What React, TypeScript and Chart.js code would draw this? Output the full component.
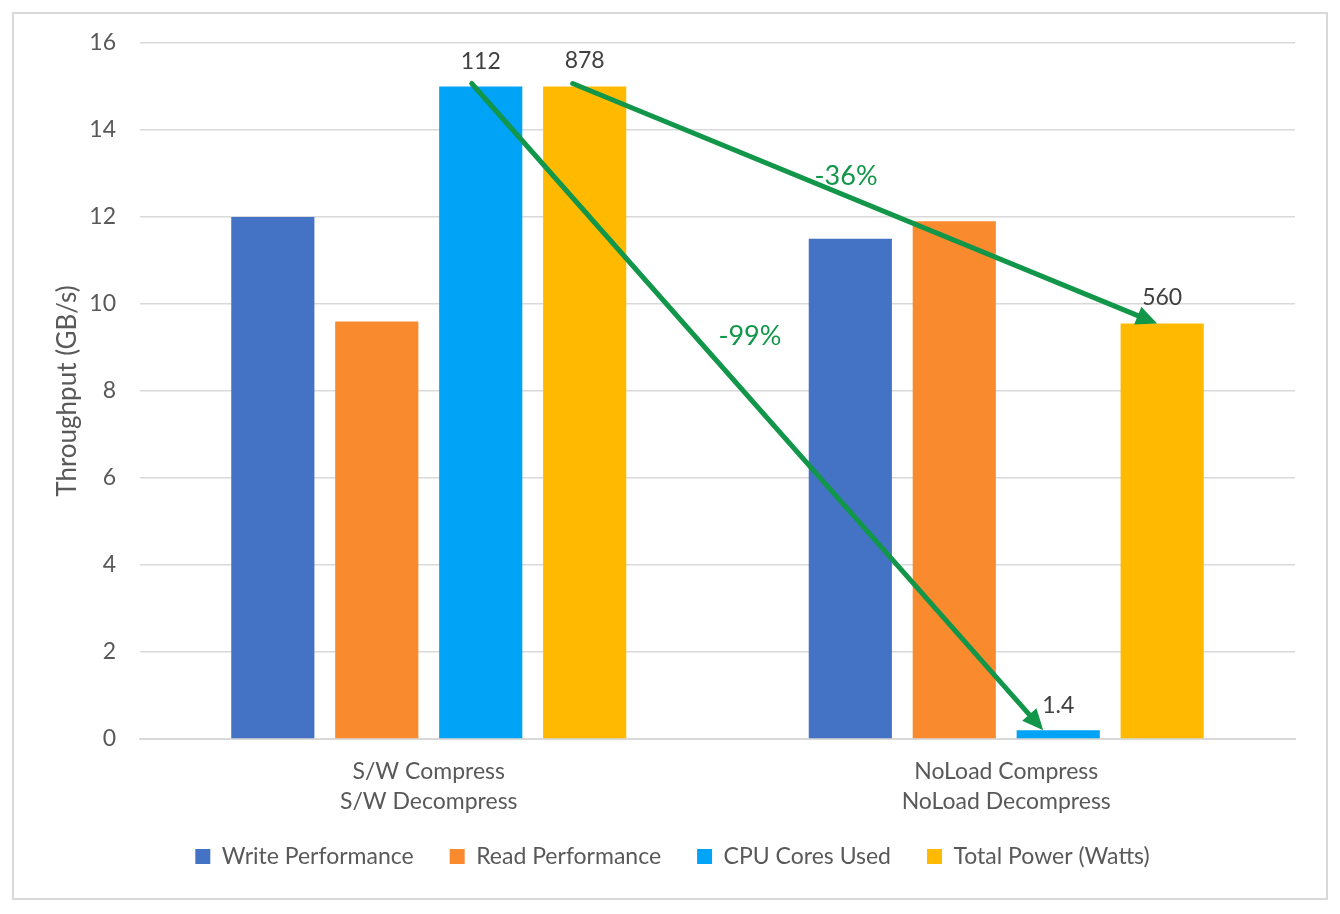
import { useEffect, useRef } from "react";
import { Chart, registerables } from "chart.js";

Chart.register(...registerables);

const categories = [
  ["S/W Compress", "S/W Decompress"],
  ["NoLoad Compress", "NoLoad Decompress"],
];
const seriesNames = ["Write Performance", "Read Performance", "CPU Cores Used", "Total Power (Watts)"];
const writePerf = [12.0, 11.5];
const readPerf = [9.6, 11.9];
const cpuCores = [15.0, 0.2];
const totalPower = [15.0, 9.55];
const cpuLabels = ["112", "1.4"];
const powerLabels = ["878", "560"];
const changeLabels = ["-99%", "-36%"];
const yMax = 16;
const yStep = 2;

const colors = ["#4472C4", "#F98A2E", "#00A3F5", "#FFBA00"];
const GREEN = "#12964A";
const FONT = "Lato, 'Open Sans', sans-serif";

function drawArrow(ctx: CanvasRenderingContext2D, x1: number, y1: number, x2: number, y2: number) {
  const dx = x2 - x1, dy = y2 - y1;
  const len = Math.hypot(dx, dy);
  const ux = dx / len, uy = dy / len;
  const headLen = 21, headHalf = 9.5;
  const bx = x2 - ux * headLen, by = y2 - uy * headLen;
  ctx.strokeStyle = GREEN;
  ctx.fillStyle = GREEN;
  ctx.lineWidth = 5;
  ctx.lineCap = "round";
  ctx.beginPath();
  ctx.moveTo(x1, y1);
  ctx.lineTo(bx + ux * 2, by + uy * 2);
  ctx.stroke();
  ctx.beginPath();
  ctx.moveTo(x2, y2);
  ctx.lineTo(bx - uy * headHalf, by + ux * headHalf);
  ctx.lineTo(bx + uy * headHalf, by - ux * headHalf);
  ctx.closePath();
  ctx.fill();
}

function labelAlong(ctx: CanvasRenderingContext2D, text: string, x1: number, y1: number, x2: number, y2: number, t: number, off: number) {
  const dx = x2 - x1, dy = y2 - y1;
  const len = Math.hypot(dx, dy);
  const ux = dx / len, uy = dy / len;
  const px = uy, py = -ux;
  const x = x1 + dx * t + px * off;
  const y = y1 + dy * t + py * off;
  ctx.fillStyle = GREEN;
  ctx.font = `27px ${FONT}`;
  ctx.textAlign = "center";
  ctx.textBaseline = "middle";
  ctx.fillText(text, x, y);
}

const overlayPlugin = {
  id: "overlay",
  afterLayout(chart: any) {
    const x = chart.scales.x;
    if (x) x.bottom = x.top + 100;
  },
  afterDatasetsDraw(chart: any) {
    const ctx: CanvasRenderingContext2D = chart.ctx;
    const cpuMeta = chart.getDatasetMeta(2);
    const powMeta = chart.getDatasetMeta(3);
    ctx.save();
    ctx.font = `23px ${FONT}`;
    ctx.fillStyle = "#404040";
    ctx.textAlign = "center";
    ctx.textBaseline = "middle";
    cpuMeta.data.forEach((bar: any, i: number) => ctx.fillText(cpuLabels[i], bar.x, bar.y - 25));
    powMeta.data.forEach((bar: any, i: number) => ctx.fillText(powerLabels[i], bar.x, bar.y - 26));

    const c0 = cpuMeta.data[0], c1 = cpuMeta.data[1];
    const p0 = powMeta.data[0], p1 = powMeta.data[1];
    const a1 = [c0.x - 9, c0.y - 3, c1.x - 15, c1.y];
    const a2 = [p0.x - 12, p0.y - 3, p1.x - 5, p1.y];
    drawArrow(ctx, a1[0], a1[1], a1[2], a1[3]);
    drawArrow(ctx, a2[0], a2[1], a2[2], a2[3]);
    labelAlong(ctx, changeLabels[0], a1[0], a1[1], a1[2], a1[3], 0.433, 41);
    labelAlong(ctx, changeLabels[1], a2[0], a2[1], a2[2], a2[3], 0.456, 18);
    ctx.restore();
  },
};

export default function App() {
  const ref = useRef<HTMLCanvasElement>(null);
  useEffect(() => {
    if (!ref.current) return;
    const data = [writePerf, readPerf, cpuCores, totalPower];
    const chart = new Chart(ref.current, {
      type: "bar",
      data: {
        labels: categories as any,
        datasets: data.map((d, i) => ({
          label: seriesNames[i],
          data: d,
          backgroundColor: colors[i],
          borderWidth: 0,
          categoryPercentage: 0.72,
          barPercentage: 0.8,
        })),
      },
      options: {
        responsive: false,
        animation: false,
        layout: { padding: { left: 50, right: 45, top: 43, bottom: 36 } },
        plugins: {
          tooltip: { enabled: false },
          legend: {
            position: "bottom",
            labels: {
              font: { family: FONT, size: 23 },
              color: "#595959",
              boxWidth: 15,
              boxHeight: 15,
              padding: 36,
            },
          },
        },
        scales: {
          x: {
            grid: { display: false, drawTicks: false },
            border: { display: true, color: "#d9d9d9", width: 2 },
            ticks: {
              font: { family: FONT, size: 23, lineHeight: 1.3 },
              color: "#595959",
              padding: 18,
            },
            afterFit: (s: any) => { s.height = 70; },
          },
          y: {
            min: 0,
            max: yMax,
            grid: { color: "#d9d9d9", lineWidth: 1.5, drawTicks: false },
            border: { display: false },
            ticks: {
              stepSize: yStep,
              font: { family: FONT, size: 23 },
              color: "#595959",
              padding: 24,
            },
            title: {
              display: true,
              text: "Throughput (GB/s)",
              font: { family: FONT, size: 26 },
              color: "#595959",
              padding: { top: 2, bottom: 0 },
            },
            afterFit: (s: any) => { s.width = 90; },
          },
        },
      },
      plugins: [overlayPlugin],
    });
    return () => chart.destroy();
  }, []);
  return (
    <div style={{ position: "fixed", left: 0, top: 0, width: 1340, height: 914, background: "#fff" }}>
      <div style={{ position: "absolute", left: 12, top: 12, width: 1316, height: 888, boxSizing: "border-box", border: "2px solid #d9d9d9" }} />
      <canvas ref={ref} width={1340} height={914} style={{ position: "absolute", left: 0, top: 0 }} />
    </div>
  );
}
